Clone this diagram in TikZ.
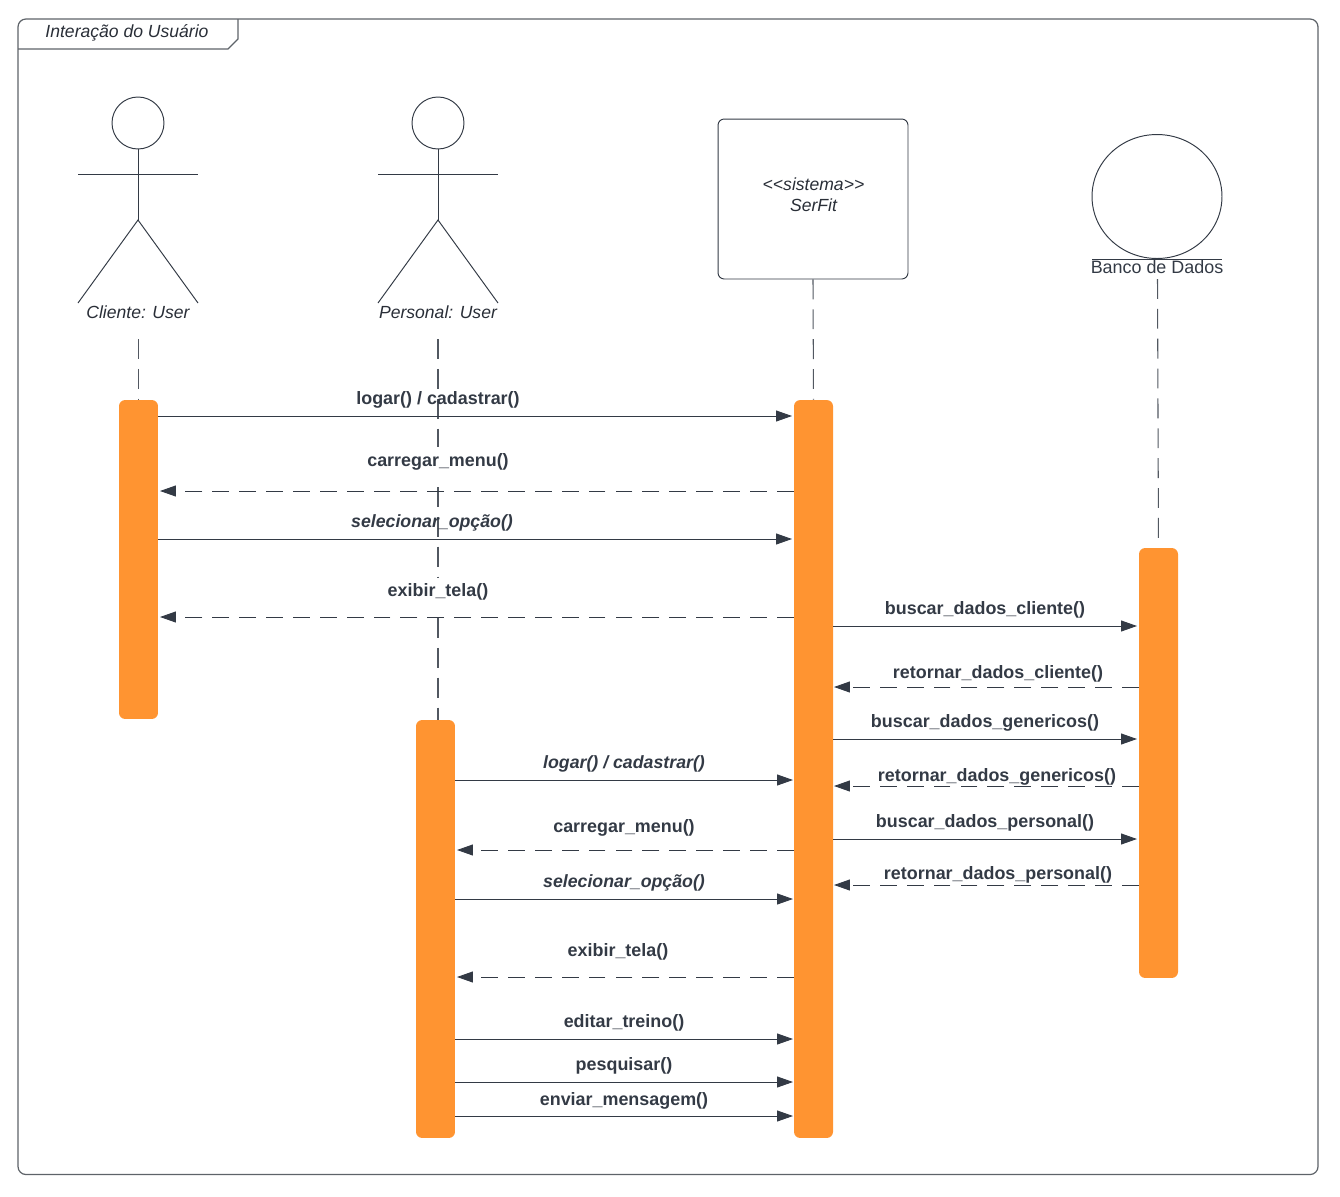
\documentclass[tikz,border=0pt]{standalone}
\usepackage{fontspec}
\setmainfont{Liberation Sans}
\usetikzlibrary{arrows.meta,shapes.geometric}
\definecolor{barorange}{HTML}{FF9431}
\definecolor{inkdark}{HTML}{333A45}
\definecolor{linegray}{HTML}{5E6369}
\tikzset{
  lifeline/.style={draw=inkdark!85,line width=0.6pt,dash pattern=on 11.3pt off 5.7pt},
  bar/.style={fill=barorange,draw=none,rounded corners=3.5pt,minimum width=0.78cm,inner sep=0},
  msg/.style={draw=inkdark,line width=0.5pt,-{Triangle[length=9pt,width=6.2pt]}},
  ret/.style={msg,dash pattern=on 9.6pt off 5.7pt},
  lbl/.style={font=\fontsize{10.2}{12}\selectfont\bfseries,text=inkdark,inner sep=0},
  lblit/.style={lbl,font=\fontsize{10.1}{12}\selectfont\bfseries\itshape},
  limb/.style={draw=inkdark,line width=0.55pt},
  txt/.style={font=\fontsize{10}{12}\selectfont\itshape,text=inkdark!80!black,inner sep=0,align=center}
}
\begin{document}
\begin{tikzpicture}[x=0.02cm,y=-0.02cm]
 \useasboundingbox (0,0) rectangle (1340,1197);

 % frame
 \draw [linegray,line width=0.7pt,rounded corners=4.5pt] (18,19) rectangle (1318,1174.5);
 \coordinate (tabA) at (18,49);
 \coordinate (tabB) at (228,49);
 \coordinate (tabC) at (238,39);
 \coordinate (tabD) at (238,19);
 \draw [linegray,line width=0.7pt] (tabA)--(tabB)--(tabC)--(tabD);
 \node [txt] (frameName) at (127,32.5) {Interação do Usuário};

 % actors
 \node [circle,limb,minimum size=1.04cm,inner sep=0] (cliHead) at (138,123) {};
 \coordinate (cliHip) at (138,220);
 \coordinate (cliArmL) at (78,174);
 \coordinate (cliArmR) at (198,174);
 \coordinate (cliLegL) at (78,303);
 \coordinate (cliLegR) at (198,303);
 \draw [limb] (cliHead.south)--(cliHip);
 \draw [limb] (cliArmL)--(cliArmR);
 \draw [limb] (cliLegL)--(cliHip)--(cliLegR);
 \node [txt] (cliName) at (138,312.5) {Cliente: User};

 \node [circle,limb,minimum size=1.04cm,inner sep=0] (perHead) at (438,123) {};
 \coordinate (perHip) at (438,220);
 \coordinate (perArmL) at (378,174);
 \coordinate (perArmR) at (498,174);
 \coordinate (perLegL) at (378,303);
 \coordinate (perLegR) at (498,303);
 \draw [limb] (perHead.south)--(perHip);
 \draw [limb] (perArmL)--(perArmR);
 \draw [limb] (perLegL)--(perHip)--(perLegR);
 \node [txt] (perName) at (438,312.5) {Personal: User};

 \node [limb,rounded corners=3.5pt,minimum width=3.8cm,minimum height=3.2cm,inner sep=0] (sysBox) at (813,199) {};
 \node [txt,text depth=0pt] (sysName) at (813.5,194.5) {{<}{<}sistema{>}{>}\\[-0.4pt]SerFit};

 \node [ellipse,limb,minimum width=2.6cm,minimum height=2.48cm,inner sep=0] (dbHead) at (1157,196.5) {};
 \coordinate (dbLineL) at (1092,259.5);
 \coordinate (dbLineR) at (1222,259.5);
 \draw [limb] (dbLineL)--(dbLineR);
 \node [lbl,font=\fontsize{10.2}{12}\selectfont] (dbName) at (1157,267.5) {Banco de Dados};

 % activation bars
 \node [bar,minimum height=6.38cm] (cliBar) at (138.5,559.5) {};
 \node [bar,minimum height=8.36cm] (perBar) at (435.5,929) {};
 \node [bar,minimum height=14.76cm] (sysBar) at (813.5,769) {};
 \node [bar,minimum height=8.6cm] (dbBar) at (1158.5,763) {};

 % lifelines
 \coordinate (cliStart) at (138.5,339);
 \coordinate (perStart) at (438,339);
 \coordinate (dbStart) at (1157.5,279);
 \draw [lifeline] (cliStart)--(cliBar.north);
 \draw [lifeline] (perStart)--(438,447);
 \draw [lifeline] (438,487)--(438,577);
 \draw [lifeline] (438,618)--(438,720);
 \draw [lifeline] (sysBox.south)--(sysBar.north);
 \draw [lifeline] (dbStart)--(dbBar.north);

 % cliente
 \draw [msg] (cliBar.east|-0,416)--(792,416);
 \node [lbl] (m1) at (438,400) {logar() / cadastrar()};
 \draw [ret] (sysBar.west|-0,491)--(160,491);
 \node [lbl] (m2) at (438,462) {carregar\_menu()};
 \draw [msg] (cliBar.east|-0,539)--(792,539);
 \node [lblit] (m3) at (432,523) {selecionar\_opção()};
 \draw [ret] (sysBar.west|-0,617)--(160,617);
 \node [lbl] (m4) at (438,592) {exibir\_tela()};

 % banco
 \draw [msg] (sysBar.east|-0,626)--(1137,626);
 \node [lbl] (d1) at (985,609.5) {buscar\_dados\_cliente()};
 \draw [ret] (dbBar.west|-0,687)--(834,687);
 \node [lbl] (d2) at (998,674) {retornar\_dados\_cliente()};
 \draw [msg] (sysBar.east|-0,739)--(1137,739);
 \node [lbl] (d3) at (985,723) {buscar\_dados\_genericos()};
 \draw [ret] (dbBar.west|-0,786)--(834,786);
 \node [lbl] (d4) at (997,777) {retornar\_dados\_genericos()};
 \draw [msg] (sysBar.east|-0,839)--(1137,839);
 \node [lbl] (d5) at (985,823) {buscar\_dados\_personal()};
 \draw [ret] (dbBar.west|-0,885)--(834,885);
 \node [lbl] (d6) at (998,875) {retornar\_dados\_personal()};

 % personal
 \draw [msg] (perBar.east|-0,780)--(793,780);
 \node [lblit] (p1) at (624,764) {logar() / cadastrar()};
 \draw [ret] (sysBar.west|-0,850)--(457,850);
 \node [lbl] (p2) at (624,828) {carregar\_menu()};
 \draw [msg] (perBar.east|-0,899)--(793,899);
 \node [lblit] (p3) at (624,883) {selecionar\_opção()};
 \draw [ret] (sysBar.west|-0,977)--(457,977);
 \node [lbl] (p4) at (618,952) {exibir\_tela()};
 \draw [msg] (perBar.east|-0,1039)--(793,1039);
 \node [lbl] (p5) at (624,1023) {editar\_treino()};
 \draw [msg] (perBar.east|-0,1082)--(793,1082);
 \node [lbl] (p6) at (624,1066) {pesquisar()};
 \draw [msg] (perBar.east|-0,1116)--(793,1116);
 \node [lbl] (p7) at (624,1101) {enviar\_mensagem()};
\end{tikzpicture}
\end{document}
